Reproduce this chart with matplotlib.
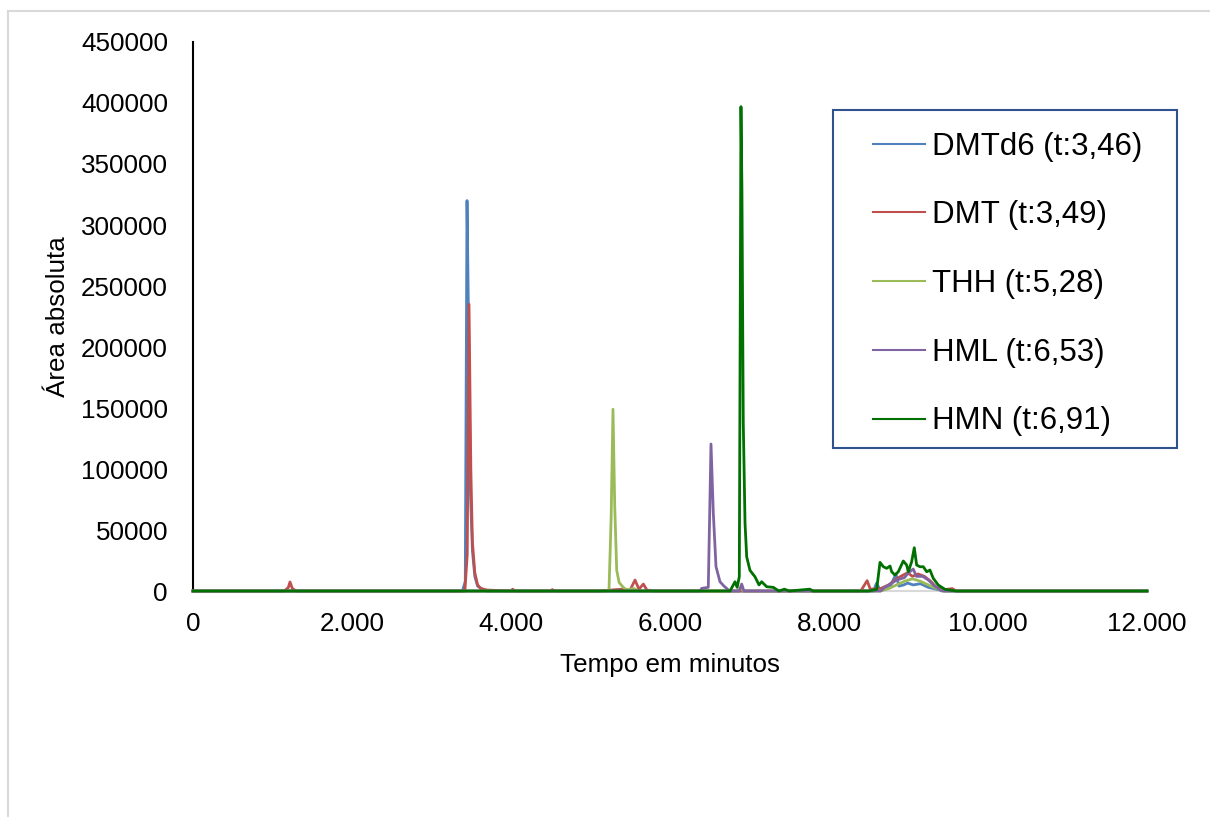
import matplotlib
matplotlib.use("Agg")
import matplotlib.pyplot as plt
from matplotlib.lines import Line2D
from matplotlib.patches import Rectangle

plt.rcParams['font.family'] = ['Liberation Sans', 'DejaVu Sans']

# ---- data (time units as on the axis, area) ----
dmtd6_t = [0, 3390, 3425, 3447, 3468, 3490, 3515, 3545, 3580, 3640, 3700,
           8560, 8597, 8640, 8700, 8780, 8843, 8880, 8940, 8990, 9060, 9150, 9250, 9350, 9450, 12000]
dmtd6_v = [0, 0, 8000, 320000, 210000, 80000, 33000, 12000, 4000, 1500, 0,
           0, 6300, 1500, 2500, 5000, 14000, 4000, 5000, 6500, 5000, 6000, 3000, 1500, 0, 0]

dmt_t = [0, 1150, 1200, 1220, 1250, 1300, 3420, 3450, 3472, 3495, 3515, 3545, 3580, 3620, 3700,
         4000, 4020, 4050, 4500, 4520, 4550, 5100, 5400, 5500, 5560, 5610, 5665, 5710, 5800,
         8400, 8480, 8520, 8650, 8750, 8850, 8930, 8990, 9050, 9120, 9200, 9280, 9350, 9450,
         9550, 9600, 12000]
dmt_v = [0, 0, 3000, 7400, 2000, 0, 0, 30000, 235000, 100000, 40000, 15000, 5000, 2000, 800,
         0, 1500, 0, 0, 1200, 0, 0, 1500, 1000, 9000, 1500, 5700, 800, 0,
         0, 8500, 1500, 2000, 5000, 10000, 13000, 15000, 12000, 14000, 12000, 8000, 3000, 1000,
         2000, 0, 0]

thh_t = [0, 5200, 5233, 5260, 5283, 5305, 5330, 5360, 5413, 5450, 5550, 5600,
         6860, 6893, 6920, 8650, 8750, 8850, 8950, 9050, 9150, 9250, 9350, 9450, 12000]
thh_v = [0, 0, 1000, 60000, 149000, 70000, 17000, 7000, 3000, 1000, 2000, 0,
         0, 3000, 0, 0, 2000, 5000, 8000, 10000, 8000, 5000, 2000, 0, 0]

hml_t = [0, 6380, 6399, 6482, 6516, 6545, 6579, 6629, 6680, 6750, 6870, 6902, 6930, 7000,
         8650, 8700, 8780, 8850, 8950, 9000, 9060, 9100, 9180, 9250, 9330, 9420, 12000]
hml_v = [0, 0, 2200, 3000, 120500, 64000, 20000, 7600, 4000, 0, 0, 5700, 0, 0,
         0, 3000, 6000, 9000, 11000, 15000, 18000, 12000, 12000, 9000, 4000, 0, 0]

hmn_t = [0, 6755, 6818, 6845, 6872, 6893, 6905, 6922, 6944, 6965, 7006, 7069, 7120, 7153,
         7217, 7300, 7370, 7440, 7500, 7760, 7800, 8500, 8600,
         8642, 8684, 8726, 8768, 8789, 8830, 8872, 8935, 8977, 8998, 9040, 9073, 9103,
         9145, 9187, 9229, 9270, 9312, 9375, 9459, 9600, 12000]
hmn_v = [0, 0, 7600, 3000, 11700, 397000, 330000, 138000, 55700, 28000, 17000, 11700, 5000, 7600,
         3500, 3000, 0, 1500, 0, 1500, 0, 0, 1400,
         23500, 19900, 18600, 20500, 15800, 13100, 15800, 24600, 21300, 15800, 24000, 35500, 21300,
         19900, 19900, 15800, 17200, 10400, 4900, 1400, 0, 0]

series_names = ["DMTd6 (t:3,46)", "DMT (t:3,49)", "THH (t:5,28)", "HML (t:6,53)", "HMN (t:6,91)"]
series_colors = ["#4F81BD", "#C0504D", "#9BBB59", "#8064A2", "#007000"]

y_ticks = [0, 50000, 100000, 150000, 200000, 250000, 300000, 350000, 400000, 450000]
x_ticks = [0, 2000, 4000, 6000, 8000, 10000, 12000]
x_tick_labels = ["0", "2.000", "4.000", "6.000", "8.000", "10.000", "12.000"]

# ---- figure ----
fig = plt.figure(figsize=(12.1, 8.17), dpi=100)
ax = fig.add_axes([0.1595, 0.2766, 0.7884, 0.672])

series = [(dmtd6_t, dmtd6_v), (dmt_t, dmt_v), (thh_t, thh_v), (hml_t, hml_v), (hmn_t, hmn_v)]
for (t, v), name, c in zip(series, series_names, series_colors):
    ax.plot(t, v, color=c, lw=2.0, label=name, clip_on=False, solid_joinstyle="round", zorder=3)

ax.set_xlim(0, 12000)
ax.set_ylim(0, 450000)
ax.set_yticks(y_ticks)
ax.set_yticklabels([str(y) for y in y_ticks])
ax.set_xticks(x_ticks)
ax.set_xticklabels(x_tick_labels)
ax.tick_params(length=0, labelsize=18.7)
ax.tick_params(axis="y", pad=18)
ax.tick_params(axis="x", pad=15)

for s in ["top", "right"]:
    ax.spines[s].set_visible(False)
ax.spines["left"].set_color("black")
ax.spines["left"].set_linewidth(1.5)
ax.spines["bottom"].set_color("#D9D9D9")
ax.spines["bottom"].set_linewidth(1.5)
ax.spines["bottom"].set_zorder(1)

ax.set_xlabel("Tempo em minutos", fontsize=18.7, labelpad=12)
ax.set_ylabel("Área absoluta", fontsize=18.7, labelpad=8)

# legend box
fig.add_artist(Rectangle((833 / 1210, 1 - 448 / 817), 344 / 1210, 338 / 817,
                         transform=fig.transFigure, fill=False, ec="#2F528F", lw=1.5))
ax.legend(loc="center left", bbox_to_anchor=(873 / 1210, 1 - 284 / 817),
          bbox_transform=fig.transFigure, frameon=False, fontsize=22.5,
          borderpad=0, borderaxespad=0, handlelength=1.66, handletextpad=0.22,
          labelspacing=1.24)
for line in ax.get_legend().get_lines():
    line.set_linewidth(1.5)

# light grey outer border (top and left edges visible)
fig.add_artist(Line2D([8 / 1210, 1], [1 - 11 / 817, 1 - 11 / 817], transform=fig.transFigure,
                      color="#D9D9D9", lw=1.5))
fig.add_artist(Line2D([8 / 1210, 8 / 1210], [0, 1 - 11 / 817], transform=fig.transFigure,
                      color="#D9D9D9", lw=1.5))

fig.savefig("out.png", dpi=100)
